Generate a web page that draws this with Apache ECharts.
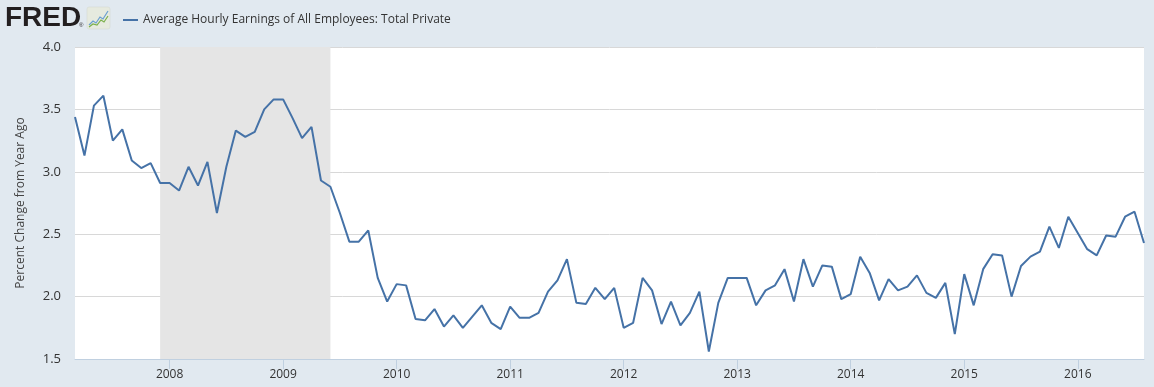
<!DOCTYPE html>
<html>
<head>
<meta charset="utf-8">
<script src="https://cdn.jsdelivr.net/npm/echarts@6/dist/echarts.min.js"></script>
<style>
html,body{margin:0;padding:0;background:#e1e9f0;}
#c{width:1154px;height:387px;}
</style>
</head>
<body>
<div id="c"></div>
<script>
// Monthly categories: March 2007 .. August 2016
var startYear = 2007, startMonth = 3, monthCount = 114;
var categories = [];
for (var i = 0; i < monthCount; i++) {
  var m = startMonth - 1 + i;
  var y = startYear + Math.floor(m / 12);
  var mm = (m % 12) + 1;
  categories.push(y + '-' + (mm < 10 ? '0' + mm : mm));
}
var seriesName = 'Average Hourly Earnings of All Employees: Total Private';
var values = [
  3.44, 3.13, 3.53, 3.61, 3.25, 3.34, 3.09, 3.03, 3.07, 2.91,
  2.91, 2.85, 3.04, 2.89, 3.08, 2.67, 3.04, 3.33, 3.28, 3.32, 3.50, 3.58,
  3.58, 3.43, 3.27, 3.36, 2.93, 2.88, 2.67, 2.44, 2.44, 2.53, 2.15, 1.96,
  2.10, 2.09, 1.82, 1.81, 1.90, 1.76, 1.85, 1.75, 1.84, 1.93, 1.79, 1.74,
  1.92, 1.83, 1.83, 1.87, 2.04, 2.13, 2.30, 1.95, 1.94, 2.07, 1.98, 2.07,
  1.75, 1.79, 2.15, 2.05, 1.78, 1.96, 1.77, 1.87, 2.04, 1.56, 1.95, 2.15,
  2.15, 2.15, 1.93, 2.05, 2.09, 2.22, 1.96, 2.30, 2.08, 2.25, 2.24, 1.98,
  2.02, 2.32, 2.19, 1.97, 2.14, 2.05, 2.08, 2.17, 2.03, 1.99, 2.11, 1.70,
  2.18, 1.93, 2.22, 2.34, 2.33, 2.00, 2.245, 2.32, 2.36, 2.56, 2.39, 2.64,
  2.51, 2.38, 2.33, 2.49, 2.48, 2.64, 2.68, 2.43
];
var recession = ['2007-12', '2009-06'];
var yTicks = { min: 1.5, max: 4.0, interval: 0.5 };
var yAxisTitle = 'Percent Change from Year Ago';

var chart = echarts.init(document.getElementById('c'), null, {renderer: 'canvas'});
var font = '"Open Sans", "Noto Sans", sans-serif';
chart.setOption({
  backgroundColor: '#e1e9f0',
  animation: false,
  textStyle: {fontFamily: font},
  graphic: [
    {type: 'text', left: 5, top: 4, style: {text: 'FRED', font: '900 28px "Liberation Sans", Arial, sans-serif', fill: '#231f20'}},
    {type: 'text', left: 79, top: 22, style: {text: '®', font: '6px "Liberation Sans", sans-serif', fill: '#231f20'}},
    {type: 'rect', shape: {x: 87, y: 7, width: 23, height: 22, r: 2}, style: {fill: '#e6eadf', stroke: '#d0d6cc', lineWidth: 0.5}},
    {type: 'polyline', shape: {points: [[89, 25], [93, 21], [96, 23], [100, 17], [103, 19], [108, 11]]}, style: {stroke: '#6a9fd0', lineWidth: 1.2, fill: null}},
    {type: 'polyline', shape: {points: [[89, 27], [93, 24], [97, 25], [101, 20], [104, 22], [108, 16]]}, style: {stroke: '#7bb04b', lineWidth: 1.2, fill: null}}
  ],
  legend: {
    left: 118, top: 9,
    itemWidth: 15, itemHeight: 2, itemGap: 10,
    icon: 'rect',
    textStyle: {fontSize: 12, color: '#333', fontFamily: font},
    data: [seriesName]
  },
  grid: {left: 75, right: 10, top: 47, bottom: 28, show: true, backgroundColor: '#ffffff', borderWidth: 0},
  xAxis: {
    type: 'category',
    data: categories,
    boundaryGap: false,
    axisLine: {show: true, lineStyle: {color: '#c0d0e0', width: 1}},
    axisTick: {show: true, length: 10, lineStyle: {color: '#c0d0e0'},
      interval: function (idx, val) { return val.slice(5) === '01'; }},
    axisLabel: {
      interval: function (idx, val) { return val.slice(5) === '01'; },
      formatter: function (val) { return val.slice(0, 4); },
      color: '#333', fontSize: 12, margin: 10, fontFamily: font
    },
    splitLine: {show: false}
  },
  yAxis: {
    type: 'value',
    min: yTicks.min, max: yTicks.max, interval: yTicks.interval,
    name: yAxisTitle,
    nameLocation: 'middle',
    nameGap: 48,
    nameTextStyle: {color: '#444', fontSize: 12, fontFamily: font},
    axisLine: {show: false},
    axisTick: {show: false},
    axisLabel: {color: '#333', fontSize: 13, margin: 14, fontFamily: font,
      formatter: function (v) { return v.toFixed(1); }},
    splitLine: {lineStyle: {color: '#d8d8d8', width: 1}}
  },
  series: [{
    name: seriesName,
    type: 'line',
    data: values,
    showSymbol: false,
    symbol: 'none',
    color: '#4572a7',
    lineStyle: {color: '#4572a7', width: 2},
    markArea: {
      silent: true,
      itemStyle: {color: '#e5e5e5'},
      data: [[{xAxis: recession[0]}, {xAxis: recession[1]}]]
    },
    z: 3
  }]
});
</script>
</body>
</html>
